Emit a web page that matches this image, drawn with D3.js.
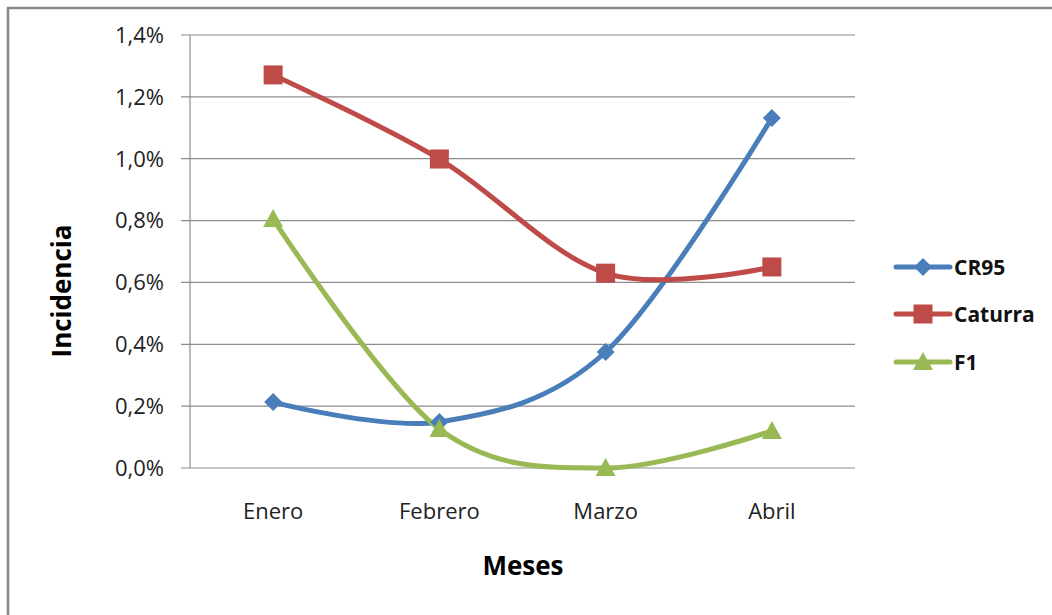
<!DOCTYPE html>
<html><head><meta charset="utf-8">
<script src="https://cdn.jsdelivr.net/npm/d3@7"></script>
<style>
html,body{margin:0;padding:0;background:#fff;}
svg{display:block;font-family:"Open Sans",Lato,sans-serif;}
</style></head><body>
<svg id="c" width="1052" height="615"></svg>
<script>
const categories = ["Enero","Febrero","Marzo","Abril"];
const seriesNames = ["CR95","Caturra","F1"];
const cr95 = [0.213, 0.149, 0.375, 1.132];
const caturra = [1.271, 0.999, 0.630, 0.650];
const f1 = [0.805, 0.126, 0.0, 0.120];
const yTicks = [0,0.2,0.4,0.6,0.8,1.0,1.2,1.4];
const colors = ["#4A7EBB","#BE4B48","#98B954"];
const markers = ["diamond","square","triangle"];

const svg = d3.select("#c");
const W=1052,H=615;
svg.append("rect").attr("x",8).attr("y",8).attr("width",W).attr("height",H)
  .attr("fill","#fff").attr("stroke","#878787").attr("stroke-width",2.5);

const m = {left:190,right:855,top:35,bottom:468};
const x = d3.scalePoint().domain(categories).range([m.left,m.right]).padding(0.5);
const y = d3.scaleLinear().domain([0,1.4]).range([m.bottom,m.top]);

// gridlines
svg.append("g").selectAll("line").data(yTicks).join("line")
  .attr("x1",m.left-9).attr("x2",m.right)
  .attr("y1",d=>y(d)).attr("y2",d=>y(d))
  .attr("stroke","#8c8c8c").attr("stroke-width",1.2);
// y axis line
svg.append("line").attr("x1",m.left).attr("x2",m.left).attr("y1",m.top).attr("y2",m.bottom)
  .attr("stroke","#8c8c8c").attr("stroke-width",1.2);

const fmt = d=>d.toFixed(1).replace(".",",")+"%";
svg.append("g").selectAll("text").data(yTicks).join("text")
  .attr("x",m.left-26).attr("y",d=>y(d)).attr("dy","0.36em")
  .attr("text-anchor","end").attr("font-size",22).attr("fill","#222")
  .text(fmt);
svg.append("g").selectAll("text").data(categories).join("text")
  .attr("x",d=>x(d)).attr("y",511).attr("dy","0.36em")
  .attr("text-anchor","middle").attr("font-size",22).attr("fill","#222")
  .text(d=>d);

svg.append("text").attr("transform","translate(62,291) rotate(-90)")
  .attr("text-anchor","middle").attr("dy","0.36em").attr("font-size",26).attr("font-weight","bold")
  .text("Incidencia");
svg.append("text").attr("x",523).attr("y",566).attr("dy","0.36em")
  .attr("text-anchor","middle").attr("font-size",26).attr("font-weight","bold")
  .text("Meses");

const allSeries = [cr95,caturra,f1];
const line = d3.line().x((d,i)=>x(categories[i])).y(d=>y(d)).curve(d3.curveCatmullRom.alpha(0));

function markerPath(type){
  if(type==="diamond") return "M0,-9L9,0L0,9L-9,0Z";
  if(type==="square") return "M-9.5,-9.5H9.5V9.5H-9.5Z";
  return "M0,-10L10,8H-10Z";
}

allSeries.forEach((vals,s)=>{
  svg.append("path").datum(vals).attr("d",line).attr("fill","none")
    .attr("stroke",colors[s]).attr("stroke-width",5).attr("stroke-linecap","round");
});
allSeries.forEach((vals,s)=>{
  svg.append("g").selectAll("path").data(vals).join("path")
    .attr("transform",(d,i)=>`translate(${x(categories[i])},${y(d)})`)
    .attr("d",markerPath(markers[s])).attr("fill",colors[s]);
});

// legend
const legY = [267,314,362];
seriesNames.forEach((n,s)=>{
  const g = svg.append("g");
  g.append("line").attr("x1",896).attr("x2",950).attr("y1",legY[s]).attr("y2",legY[s])
    .attr("stroke",colors[s]).attr("stroke-width",5).attr("stroke-linecap","round");
  g.append("path").attr("transform",`translate(923,${legY[s]})`).attr("d",markerPath(markers[s])).attr("fill",colors[s]);
  g.append("text").attr("x",954).attr("y",legY[s]).attr("dy","0.36em")
    .attr("font-size",21).attr("font-weight","bold").attr("fill","#111").text(n);
});
</script>
</body></html>
